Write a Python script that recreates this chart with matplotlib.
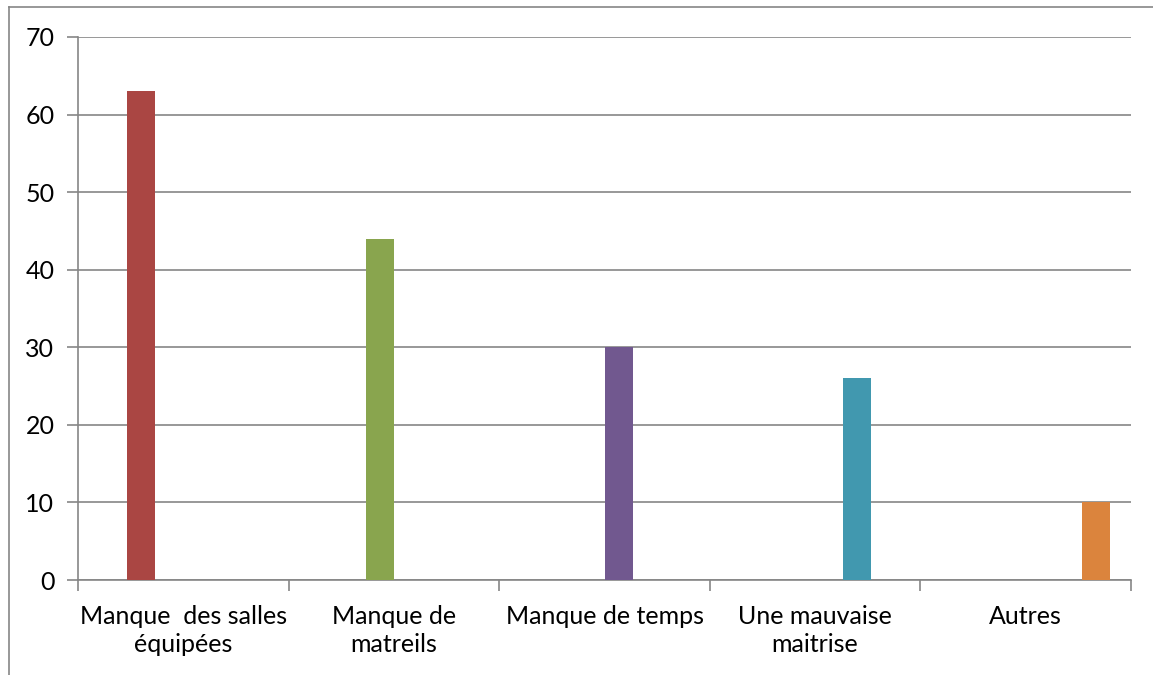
import matplotlib.pyplot as plt
from matplotlib.lines import Line2D

categories = ["Manque  des salles\néquipées", "Manque de\nmatreils", "Manque de temps",
              "Une mauvaise\nmaitrise", "Autres"]
values = [63, 44, 30, 26, 10]
colors = ["#AA4643", "#89A54E", "#71588F", "#4198AF", "#DB843D"]
yticks = [0, 10, 20, 30, 40, 50, 60, 70]

plt.rcParams['font.family'] = ['Lato', 'DejaVu Sans']

fig = plt.figure(figsize=(11.53, 6.75), dpi=100)
ax = fig.add_axes([78 / 1153, 1 - 580 / 675, (1131 - 78) / 1153, (580 - 37) / 675])

# excel style clustered layout: 6 slots per category, first slot empty
nslots = 6
w = 0.8 / nslots
for j, (v, c) in enumerate(zip(values, colors)):
    x = j - 0.4 + (j + 1.5) * w
    ax.bar(x, v, width=w, color=c, zorder=3)

ax.set_xlim(-0.5, 4.5)
ax.set_ylim(0, 70)
ax.set_yticks(yticks)
ax.yaxis.grid(True, color="#868686", linewidth=1.2, zorder=0)
ax.set_xticks([i - 0.5 for i in range(6)], minor=False)
ax.set_xticklabels([])
ax.set_xticks(range(5), minor=True)
ax.set_xticklabels(categories, minor=True, fontsize=18, linespacing=1.28)
ax.tick_params(axis='x', which='minor', length=0, pad=18)
ax.tick_params(axis='x', which='major', length=8, width=1.2, color="#868686")
ax.tick_params(axis='y', length=8, width=1.2, color="#868686", labelsize=18, pad=9)
for s in ["top", "right"]:
    ax.spines[s].set_visible(False)
for s in ["left", "bottom"]:
    ax.spines[s].set_color("#868686")
    ax.spines[s].set_linewidth(1.2)

# outer chart border
fig.add_artist(Line2D([9 / 1153, 9 / 1153], [0, 1 - 7 / 675], color="#868686", lw=1.2))
fig.add_artist(Line2D([9 / 1153, 1], [1 - 7 / 675, 1 - 7 / 675], color="#868686", lw=1.2))

fig.savefig("out.png", dpi=100)
